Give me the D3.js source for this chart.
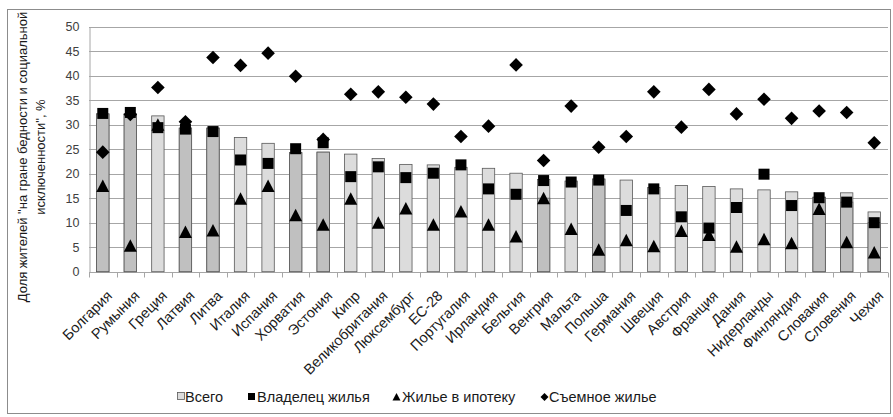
<!DOCTYPE html>
<html><head><meta charset="utf-8">
<script src="https://cdn.jsdelivr.net/npm/d3@7"></script>
<style>body{margin:0;background:#fff;} svg{display:block;font-family:"Liberation Sans",Arial,sans-serif;}</style>
</head><body><svg id="c" width="893" height="417"></svg>
<script>
const categories = ["Болгария","Румыния","Греция","Латвия","Литва","Италия","Испания","Хорватия","Эстония","Кипр","Великобритания","Люксембург","ЕС-28","Португалия","Ирландия","Бельгия","Венгрия","Мальта","Польша","Германия","Швеция","Австрия","Франция","Дания","Нидерланды","Финляндия","Словакия","Словения","Чехия"];
const total    = [32.2,32.2,31.8,29.3,29.3,27.4,26.2,24.3,24.4,24.0,23.1,21.9,21.8,21.3,21.1,20.1,18.8,18.5,18.9,18.7,17.2,17.6,17.4,16.9,16.7,16.3,15.2,16.1,12.2];
const darkPart = [32.2,32.2,0,29.3,29.3,0,0,24.3,24.4,0,0,0,0,0,0,0,15.0,0,18.9,0,0,0,0,0,0,0,15.2,14.2,10.0];
const owner    = [32.3,32.5,29.4,29.1,28.6,22.8,22.1,25.1,26.3,19.4,21.4,19.2,20.1,21.8,16.9,15.8,18.6,18.3,18.7,12.5,16.9,11.2,8.9,13.1,19.9,13.5,15.1,14.2,10.0];
const mortgage = [17.4,5.2,29.9,8.0,8.3,14.8,17.4,11.4,9.5,14.8,9.9,12.8,9.5,12.2,9.5,7.1,14.9,8.6,4.4,6.3,5.1,8.2,7.4,5.0,6.5,5.7,12.7,5.9,3.8];
const rent     = [24.4,32.1,37.6,30.6,43.7,42.1,44.6,39.9,27.0,36.2,36.7,35.6,34.2,27.6,29.7,42.2,22.7,33.8,25.4,27.6,36.7,29.5,37.2,32.2,35.2,31.3,32.8,32.5,26.3];
const yTicks = [0,5,10,15,20,25,30,35,40,45,50];
const seriesNames = ["Всего","Владелец жилья","Жилье в ипотеку","Съемное жилье"];
const yTitle = ["Доля жителей \"на гране бедности и социальной", "исключенности\", %"];

const svg = d3.select("#c");
const L = 89, R = 888, T = 26.7, B = 271.7;
const x = d3.scaleBand().domain(categories).range([L, R]).paddingInner(0.55).paddingOuter(0.275);
const xb = d3.scaleBand().domain(categories).range([L, R]);
const y = d3.scaleLinear().domain([0, 50]).range([B, T]);

svg.append("rect").attr("x",7.5).attr("y",9.5).attr("width",883).attr("height",404).attr("fill","none").attr("stroke","#8c8c8c");

// gridlines
svg.append("g").selectAll("line").data(yTicks.filter(d=>d>0)).join("line")
  .attr("x1",L).attr("x2",R).attr("y1",d=>Math.round(y(d))+0.5).attr("y2",d=>Math.round(y(d))+0.5)
  .attr("stroke","#a6a6a6").attr("stroke-width",1);

// y axis
const ya = svg.append("g").attr("transform",`translate(${L+0.5},0)`)
  .call(d3.axisLeft(y).tickValues(yTicks).tickSize(0).tickPadding(10));
ya.select(".domain").attr("stroke","#a6a6a6");
ya.selectAll("text").attr("font-size",12.5).attr("fill","#404040");

// x axis
const xa = svg.append("g").attr("transform",`translate(0,${Math.round(B)+0.5})`);
xa.append("line").attr("x1",L).attr("x2",R).attr("stroke","#a6a6a6");
xa.selectAll("line.t").data(categories.concat(["__end"])).join("line").attr("class","t")
  .attr("x1",(d,i)=>Math.round(L+i*xb.bandwidth())+0.5).attr("x2",(d,i)=>Math.round(L+i*xb.bandwidth())+0.5)
  .attr("y1",0).attr("y2",5).attr("stroke","#a6a6a6");
xa.selectAll("text").data(categories).join("text")
  .attr("transform",d=>`translate(${xb(d)+xb.bandwidth()/2+3},17) rotate(-45)`)
  .attr("text-anchor","end").attr("dy","0.7em").attr("font-size",14.5).attr("fill","#1a1a1a").text(d=>d);

// bars
const bars = svg.append("g");
bars.selectAll("rect.t").data(categories).join("rect").attr("class","t")
  .attr("x",d=>x(d)).attr("width",x.bandwidth())
  .attr("y",(d,i)=>y(total[i])).attr("height",(d,i)=>y(0)-y(total[i]))
  .attr("fill","#dcdcdc").attr("stroke","#595959").attr("stroke-width",0.8);
bars.selectAll("rect.d").data(categories.filter((d,i)=>darkPart[i]>0)).join("rect").attr("class","d")
  .attr("x",d=>x(d)).attr("width",x.bandwidth())
  .attr("y",d=>y(darkPart[categories.indexOf(d)])).attr("height",d=>y(0)-y(darkPart[categories.indexOf(d)]))
  .attr("fill","#c0c0c0").attr("stroke","#595959").attr("stroke-width",0.8);

const cx = d => x(d) + x.bandwidth()/2;
const sq = "M-5.5,-5.5H5.5V5.5H-5.5Z";
const tri = "M0,-7L6.5,5.5H-6.5Z";
const dia = "M0,-6.8L6.8,0L0,6.8L-6.8,0Z";
function markers(vals, path){
  svg.append("g").selectAll("path").data(categories).join("path")
    .attr("d",path).attr("fill","#000")
    .attr("transform",(d,i)=>`translate(${cx(d)},${y(vals[i])})`);
}
markers(owner, sq);
markers(mortgage, tri);
markers(rent, dia);

// y title
yTitle.forEach((t,k)=>{
  svg.append("text").attr("transform",`translate(${k===0?27:45},157) rotate(-90)`)
    .attr("text-anchor","middle").attr("font-size",13).attr("fill","#1a1a1a").text(t);
});

// legend
const lg = svg.append("g").attr("font-size",14.5).attr("fill","#1a1a1a");
const legendItems = [
  {x:177, tx:185, kind:"box"},
  {x:248, tx:257, kind:"sq"},
  {x:393, tx:402, kind:"tri"},
  {x:541, tx:549, kind:"dia"}
];
const ly = 397;
legendItems.forEach((it,k)=>{
  if(it.kind==="box") lg.append("rect").attr("x",it.x+0.5).attr("y",ly-4.5).attr("width",7).attr("height",7).attr("fill","#dcdcdc").attr("stroke","#595959").attr("stroke-width",0.8);
  if(it.kind==="sq") lg.append("rect").attr("x",it.x).attr("y",ly-4).attr("width",7).attr("height",7).attr("fill","#000");
  if(it.kind==="tri") lg.append("path").attr("d","M0,-4L4,3.5H-4Z").attr("transform",`translate(${it.x+3.5},${ly})`).attr("fill","#000");
  if(it.kind==="dia") lg.append("path").attr("d","M0,-4L4,0L0,4L-4,0Z").attr("transform",`translate(${it.x+3.5},${ly})`).attr("fill","#000");
  lg.append("text").attr("x",it.tx).attr("y",ly).attr("dy","0.35em").text(seriesNames[k]);
});
</script></body></html>
